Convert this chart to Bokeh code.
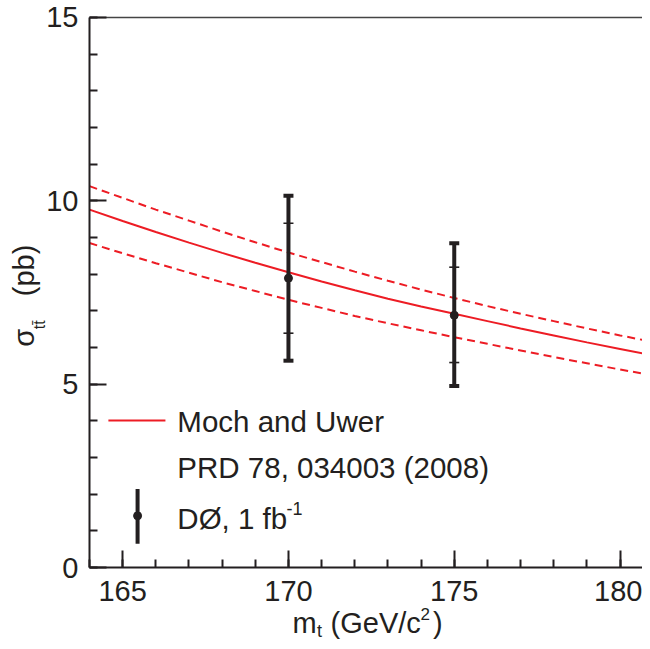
import numpy as np
from bokeh.plotting import figure
from bokeh.models import Range1d, FixedTicker, Label, LinearAxis
from bokeh.embed import file_html
from bokeh.resources import INLINE

# ---- data ----
mass = [164, 165, 166, 167, 168, 169, 170, 171, 172, 173, 174, 175, 176, 177, 178, 179, 180, 181]
theory_central = [9.76, 9.45, 9.15, 8.86, 8.58, 8.31, 8.05, 7.80, 7.56, 7.33, 7.12, 6.92, 6.72, 6.52, 6.33, 6.14, 5.96, 5.78]
theory_upper = [10.40, 10.08, 9.76, 9.46, 9.16, 8.87, 8.59, 8.33, 8.07, 7.82, 7.58, 7.35, 7.13, 6.92, 6.72, 6.52, 6.33, 6.15]
theory_lower = [8.85, 8.57, 8.30, 8.04, 7.78, 7.54, 7.30, 7.08, 6.86, 6.66, 6.47, 6.28, 6.10, 5.92, 5.74, 5.57, 5.40, 5.24]

meas_mass = [170.0, 175.0]
meas_xsec = [7.89, 6.88]
meas_stat_lo = [6.39, 5.59]
meas_stat_hi = [9.39, 8.19]
meas_tot_lo = [5.64, 4.95]
meas_tot_hi = [10.14, 8.84]

x_major = [165, 170, 175, 180]
x_minor = list(range(164, 182))
y_major = [0, 5, 10, 15]
y_minor = list(range(0, 16))

X_MIN, X_MAX = 164, 181
Y_MIN, Y_MAX = 0, 15

RED = "#ed1c24"
INK = "#231f20"
FONT = "Liberation Sans"

# the frame covers the whole canvas; axes are drawn at fixed data locations
p = figure(width=642, height=641,
           x_range=Range1d(161.316, 180.677), y_range=Range1d(-2.018, 15.4636),
           output_backend="svg", toolbar_location=None, min_border=0)
p.outline_line_color = None
p.xgrid.visible = False
p.ygrid.visible = False
p.background_fill_color = "white"

p.xaxis.fixed_location = Y_MIN
p.yaxis.fixed_location = X_MIN
p.xaxis.bounds = (X_MIN, X_MAX)
p.yaxis.bounds = (Y_MIN, Y_MAX)

for ax, maj, mnr in ((p.xaxis[0], x_major, x_minor), (p.yaxis[0], y_major, y_minor)):
    ax.ticker = FixedTicker(ticks=maj, minor_ticks=mnr)
    ax.axis_line_color = INK
    ax.axis_line_width = 2
    ax.major_tick_line_color = INK
    ax.major_tick_line_width = 2
    ax.minor_tick_line_color = INK
    ax.minor_tick_line_width = 2
    ax.major_tick_in = 17
    ax.major_tick_out = 0
    ax.minor_tick_in = 8
    ax.minor_tick_out = 0
    ax.major_label_text_font = FONT
    ax.major_label_text_font_size = "29px"
    ax.major_label_text_color = INK
p.xaxis.major_label_standoff = 13
p.yaxis.major_label_standoff = 11

# thin top border as an unlabeled axis
top = LinearAxis(fixed_location=Y_MAX, bounds=(X_MIN, X_MAX), ticker=FixedTicker(ticks=[]),
                 axis_line_color="#444444", axis_line_width=1.3,
                 major_label_text_font_size="0px", major_tick_line_color=None,
                 minor_tick_line_color=None)
p.add_layout(top, "above")

# theory curves
p.line(mass, theory_central, line_color=RED, line_width=2)
p.line(mass, theory_upper, line_color=RED, line_width=2, line_dash="8 5")
p.line(mass, theory_lower, line_color=RED, line_width=2, line_dash="8 5")

# measurements
p.segment(x0=meas_mass, y0=meas_tot_lo, x1=meas_mass, y1=meas_tot_hi, line_color=INK, line_width=4)
p.scatter(meas_mass + meas_mass, meas_tot_lo + meas_tot_hi, marker="dash", size=10,
          line_color=INK, line_width=4)
p.scatter(meas_mass + meas_mass, meas_stat_lo + meas_stat_hi, marker="dash", size=10,
          line_color=INK, line_width=1.6)
p.scatter(meas_mass, meas_xsec, marker="circle", size=8, fill_color=INK, line_color=INK)

# legend
p.line([164.57, 166.29], [4.01, 4.01], line_color=RED, line_width=2)
p.segment(x0=[165.45], y0=[0.65], x1=[165.45], y1=[2.14], line_color=INK, line_width=4)
p.scatter([165.45], [1.41], marker="circle", size=8, fill_color=INK, line_color=INK)

def lab(x, y, t, size, angle=0.0):
    p.add_layout(Label(x=x, y=y, text=t, text_font=FONT, text_font_size=size,
                       text_color=INK, text_baseline="alphabetic", text_align="left",
                       angle=angle, angle_units="rad"))

lab(166.65, 3.98, "Moch and Uwer", "29.5px")
lab(166.65, 2.73, "PRD 78, 034003 (2008)", "29.5px")
lab(166.65, 1.35, "DØ, 1 fb", "29.5px")
lab(169.94, 1.62, "-1", "18px")

# x axis title: m_t (GeV/c^2)
lab(170.12, -1.524, "m", "29px")
lab(170.86, -1.743, "t", "18px")
lab(171.27, -1.524, "(GeV/c", "29px")
lab(173.98, -1.265, "2", "17px")
lab(174.36, -1.524, ")", "29px")

# y axis title: sigma_tt (pb)
lab(162.02, 6.02, "σ", "29px", angle=np.pi / 2)
lab(162.50, 6.50, "tt\u0304", "16px", angle=np.pi / 2)
lab(162.02, 7.40, "(pb)", "29px", angle=np.pi / 2)

open("out.html", "w").write(file_html(p, INLINE))
